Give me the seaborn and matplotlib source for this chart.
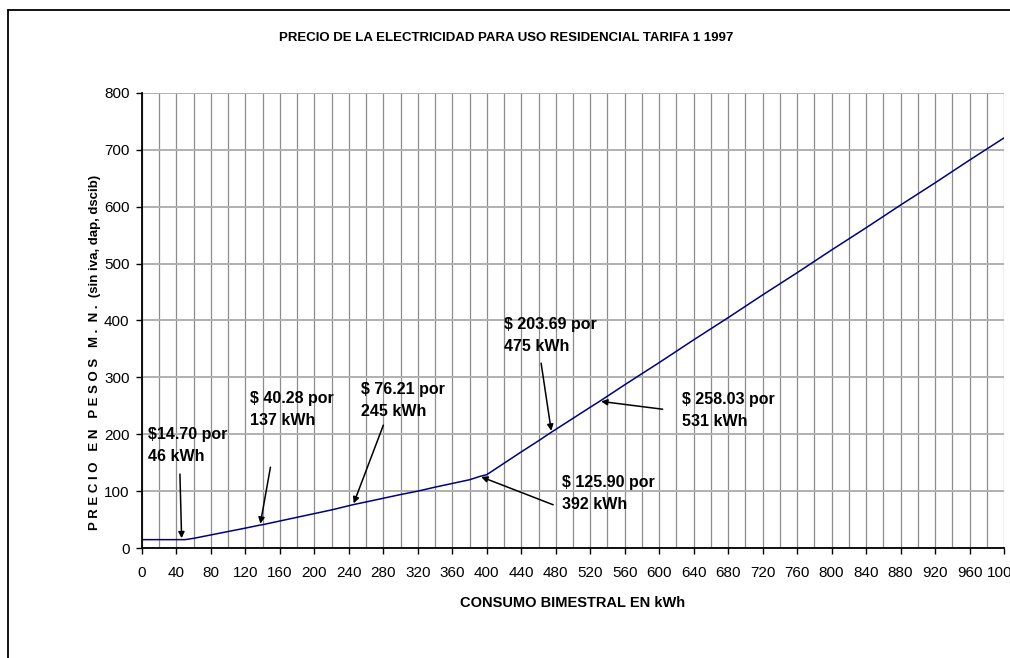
import matplotlib
matplotlib.use("Agg")
import matplotlib.pyplot as plt
from matplotlib.lines import Line2D
from matplotlib.ticker import MultipleLocator
import seaborn as sns
import pandas as pd

# consumo bimestral (kWh) y precio (pesos)
kwh = [0, 20, 40, 50, 60, 80, 100, 120, 137, 140, 160, 180, 200, 220, 245,
       260, 280, 300, 320, 340, 360, 380, 392, 400, 420, 440, 460, 475, 480,
       500, 520, 531, 540, 560, 580, 600, 620, 640, 660, 680, 700, 720, 740,
       760, 780, 800, 820, 840, 860, 880, 900, 920, 940, 960, 980, 1000]
precio = [14.7, 14.7, 14.7, 14.7, 17.0, 23.0, 29.0, 35.0, 40.28, 41.0, 47.5,
          54.0, 60.5, 67.0, 76.21, 81.0, 87.5, 94.0, 100.0, 107.0, 113.5,
          120.0, 125.9, 129.0, 149.0, 169.0, 188.5, 203.69, 208.5, 228.0,
          247.5, 258.03, 267.0, 287.0, 306.5, 326.0, 346.0, 366.0, 385.5,
          405.0, 425.0, 445.0, 464.5, 484.0, 504.0, 524.0, 543.5, 563.0,
          583.0, 603.0, 622.5, 642.0, 662.0, 682.0, 701.5, 721.0]

# anotaciones: punto señalado
ann_kwh = [46, 137, 245, 475, 531, 392]
ann_precio = [14.70, 40.28, 76.21, 203.69, 258.03, 125.90]
ann_labels = ["$14.70 por\n46 kWh", "$ 40.28 por\n137 kWh", "$ 76.21 por\n245 kWh",
              "$ 203.69 por\n475 kWh", "$ 258.03 por\n531 kWh", "$ 125.90 por\n392 kWh"]

sns.set_style("white")
plt.rcParams['font.family'] = ['Liberation Sans Narrow', 'Liberation Sans', 'DejaVu Sans']
plt.rcParams['text.color'] = 'black'
plt.rcParams['xtick.color'] = 'black'
plt.rcParams['ytick.color'] = 'black'
plt.rcParams['axes.labelcolor'] = 'black'

df = pd.DataFrame({"kwh": kwh, "precio": precio})

fig = plt.figure(figsize=(10.1, 6.58), dpi=100)
ax = fig.add_axes([142 / 1010, 1 - 548 / 658, (1004 - 142) / 1010, (548 - 93) / 658])

sns.lineplot(data=df, x="kwh", y="precio", ax=ax, color="#000080", linewidth=1.1)

ax.set_xlim(0, 1000)
ax.set_ylim(0, 800)
ax.xaxis.set_major_locator(MultipleLocator(40))
ax.xaxis.set_minor_locator(MultipleLocator(20))
ax.yaxis.set_major_locator(MultipleLocator(100))
ax.grid(which="minor", axis="x", color="#8c8c8c", linewidth=0.9)
ax.grid(which="major", axis="x", color="#8c8c8c", linewidth=0.9)
ax.grid(which="major", axis="y", color="#b0b0b0", linewidth=1.4)
ax.set_axisbelow(True)

for s in ["top", "right"]:
    ax.spines[s].set_visible(False)
for s in ["left", "bottom"]:
    ax.spines[s].set_color("black")
    ax.spines[s].set_linewidth(1.3)

ax.tick_params(axis="both", which="major", direction="out", length=4, width=1,
               color="black", labelsize=11, left=True, bottom=True)
ax.tick_params(axis="x", which="major", pad=9)
ax.tick_params(axis="y", which="major", pad=5)
ax.tick_params(axis="x", which="minor", length=0)
ax.set_xlabel("")
ax.set_ylabel("")

fig.text(573 / 1010, 1 - 603 / 658, "CONSUMO BIMESTRAL EN kWh", ha="center", va="center",
         fontsize=10.5, fontweight="bold")
fig.text(95 / 1010, 1 - 352 / 658,
         "P R E C I O   E N   P E S O S   M .  N .  (sin iva, dap, dscib)",
         ha="center", va="center", rotation=90, fontsize=9.5, fontweight="bold")
fig.suptitle("PRECIO DE LA ELECTRICIDAD PARA USO RESIDENCIAL TARIFA 1 1997",
             x=506 / 1010, y=1 - 38 / 658, ha="center", va="center",
             fontsize=9.5, fontweight="bold")

# colas de flechas y posiciones de texto (en unidades de datos)
tails = [(44, 130), (149, 142), (280, 216), (463, 325), (604, 244), (477, 76)]
text_pos = [(7, 213), (125, 276), (254, 292), (420, 406), (626, 274), (487, 128)]

for xk, yp, lab, tail, tp in zip(ann_kwh, ann_precio, ann_labels, tails, text_pos):
    ax.annotate("", xy=(xk, yp), xytext=tail,
                arrowprops=dict(arrowstyle="-|>", color="black", lw=1.1,
                                mutation_scale=9, shrinkA=0, shrinkB=1))
    ax.text(tp[0], tp[1], lab, ha="left", va="top", fontsize=11.5,
            fontweight="bold", linespacing=1.6)

# marco exterior del area del grafico
fig.add_artist(Line2D([8 / 1010, 8 / 1010], [0, 1 - 10 / 658], color="black", lw=1.3,
                      transform=fig.transFigure))
fig.add_artist(Line2D([8 / 1010, 1], [1 - 10 / 658, 1 - 10 / 658], color="black", lw=1.3,
                      transform=fig.transFigure))

fig.savefig("out.png", dpi=100)
